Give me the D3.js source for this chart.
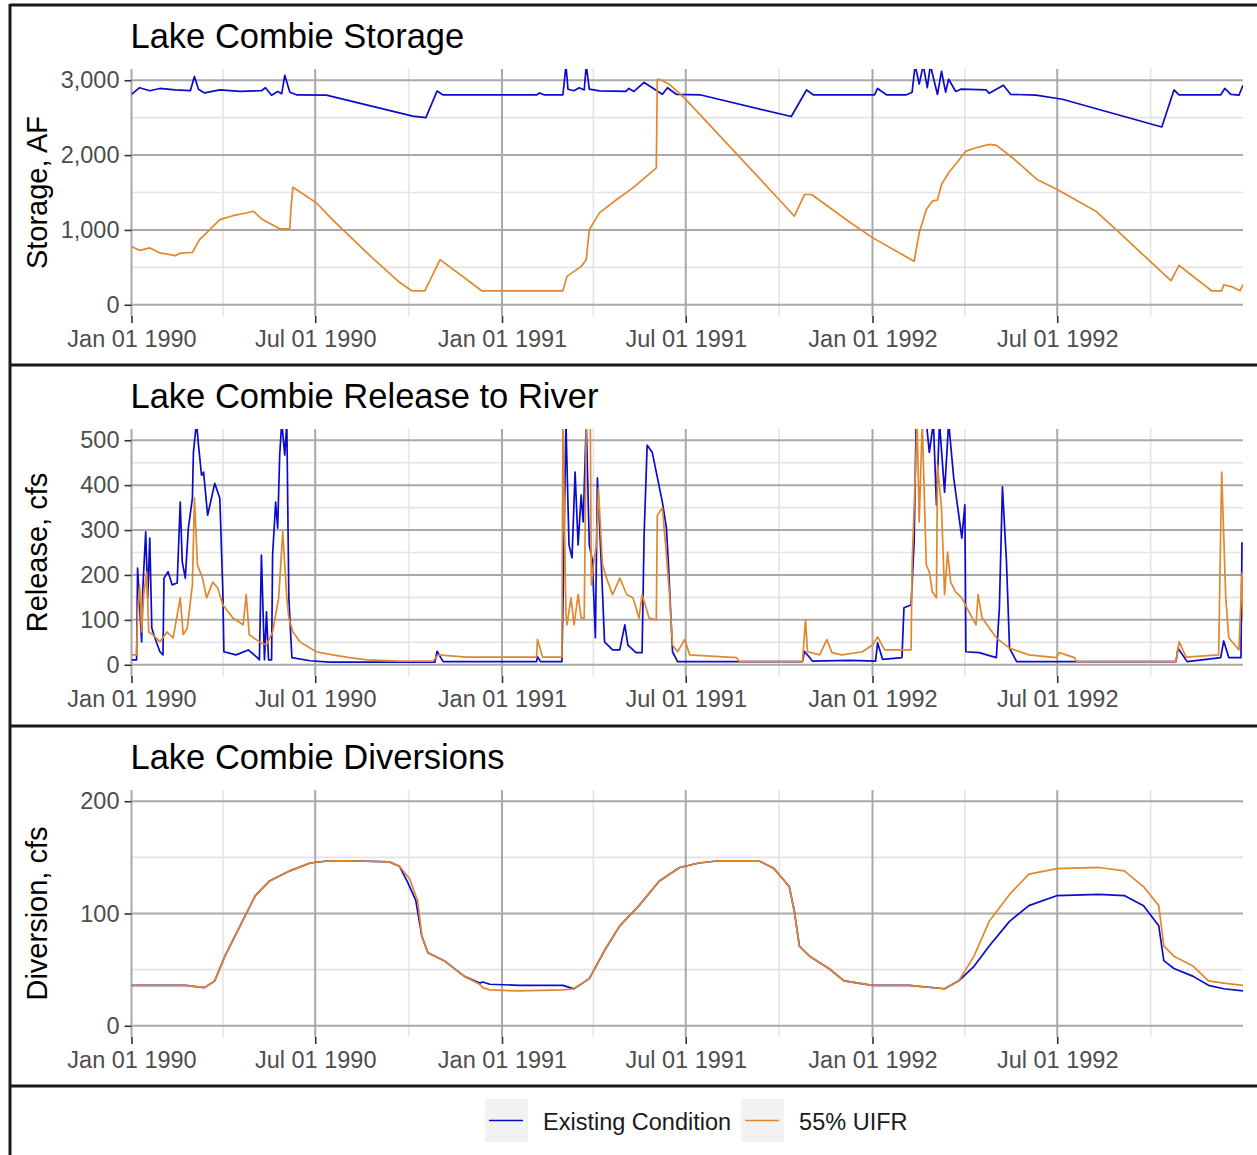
<!DOCTYPE html>
<meta charset="utf-8">
<style>
  body { margin: 0; background: white; }
  svg { display: block; background-color: white; }
  text { font-family: "Liberation Sans", Arial, sans-serif; }
  .axis path.domain { display: none; }
  .axis line { stroke: #333333; stroke-width: 1.6; }
  .axis text { font-size: 23.5px; fill: #4d4d4d; }
  .grid-major { stroke: #a9a9a9; stroke-width: 2; }
  .grid-minor { stroke: #e4e4e4; stroke-width: 1.6; }
  .frame { stroke: #1a1a1a; stroke-width: 3; }
  .series { fill: none; stroke-width: 1.7; stroke-linejoin: round; }
</style>

<div id="chart"></div>

<script src="https://d3js.org/d3.v7.min.js"></script>

<script>
  // ---- data (x value = day of record counted from 1 Jan 1990) ----
  var startDate = "1990-01-01", endDate = "1992-12-31";
  var seriesNames = ["Existing Condition", "55% UIFR"];
  var seriesColors = ["#0b0bcb", "#e3872d"];

  var panelTitles = ["Lake Combie Storage", "Lake Combie Release to River", "Lake Combie Diversions"];
  var axisTitles = ["Storage, AF", "Release, cfs", "Diversion, cfs"];
  var yDomains = [[-150, 3150], [-25, 525], [-10, 210]];
  var yTicks = [[0, 1000, 2000, 3000], [0, 100, 200, 300, 400, 500], [0, 100, 200]];
  var yMinorTicks = [[500, 1500, 2500], [50, 150, 250, 350, 450], [50, 150]];
  var xTicks = ["1990-01-01", "1990-07-01", "1991-01-01", "1991-07-01", "1992-01-01", "1992-07-01"];
  var xMinorTicks = ["1990-04-01", "1990-10-01", "1991-04-01", "1991-10-01", "1992-04-01", "1992-10-01"];

  // storage, AF
  var storageExisting = [[0,2810],[8,2900],[18,2860],[28,2890],[43,2870],[58,2860],[62,3050],[66,2880],[72,2830],
    [87,2870],[107,2850],[128,2860],[132,2900],[138,2800],[144,2850],[148,2820],[151,3066],[156,2840],[163,2803],
    [192,2800],[277,2520],[290,2500],[301,2855],[307,2803],[399,2803],[402,2830],[407,2803],[425,2803],[428,3200],
    [430,2880],[436,2860],[441,2900],[446,2870],[448,3200],[451,2880],[461,2857],[487,2850],[490,2890],[495,2850],
    [505,2970],[523,2812],[528,2900],[537,2810],[561,2803],[650,2515],[665,2870],[672,2803],[732,2803],[735,2890],
    [744,2803],[763,2803],[769,2840],[772,3200],[776,2950],[780,3200],[784,2900],[787,3200],[794,2810],[798,3120],
    [802,2840],[805,3013],[812,2850],[817,2880],[842,2870],[845,2825],[859,2933],[866,2812],[891,2800],[917,2746],
    [1015,2375],[1027,2870],[1032,2803],[1073,2803],[1077,2890],[1083,2810],[1091,2800],[1095,2933]];
  var storageUIFR = [[0,780],[8,727],[18,760],[28,693],[43,656],[48,690],[60,700],[67,870],[74,960],[87,1138],
    [100,1190],[114,1230],[120,1250],[129,1138],[146,1015],[156,1015],[157,1272],[159,1571],[182,1363],[198,1138],
    [232,692],[264,300],[276,187],[289,187],[304,603],[345,187],[425,187],[429,379],[443,513],[448,603],[451,1004],
    [461,1228],[478,1406],[494,1562],[517,1830],[518,3013],[520,3013],[530,2946],[546,2745],[592,2076],[638,1406],
    [653,1183],[663,1473],[670,1473],[707,1110],[730,897],[771,580],[776,960],[783,1272],[789,1384],[794,1400],
    [798,1607],[805,1763],[813,1897],[822,2053],[832,2098],[845,2143],[852,2130],[868,1964],[892,1674],[912,1540],
    [950,1250],[970,1004],[1024,321],[1032,527],[1064,187],[1074,187],[1076,268],[1084,240],[1092,187],[1095,268]];

  // release to river, cfs
  var releaseExisting = [[0,11],[5,11],[6,215],[10,51],[11,162],[14,296],[16,149],[18,282],[20,82],[23,60],[28,29],
    [31,22],[32,193],[36,207],[40,178],[45,182],[48,362],[50,229],[53,193],[56,304],[60,371],[61,473],[64,540],
    [66,489],[69,422],[71,429],[75,333],[82,404],[87,371],[90,162],[91,29],[103,22],[115,33],[124,16],[126,11],
    [128,244],[131,11],[133,118],[135,11],[138,11],[139,244],[142,362],[144,304],[146,467],[148,540],[151,467],
    [153,540],[155,149],[158,16],[176,9],[195,6],[299,6],[301,30],[307,7],[399,7],[400,18],[403,7],[424,7],
    [425,127],[428,540],[431,267],[434,238],[437,429],[440,267],[443,378],[445,318],[448,540],[451,267],[454,233],
    [457,60],[459,416],[463,216],[466,51],[474,33],[481,33],[486,89],[489,44],[497,27],[503,27],[505,289],[508,489],
    [513,473],[517,429],[523,362],[527,304],[529,222],[533,29],[538,7],[661,7],[663,30],[671,8],[707,10],[733,8],
    [735,49],[740,12],[759,16],[761,127],[768,133],[771,273],[773,540],[783,540],[786,473],[790,540],[793,356],
    [796,540],[801,384],[805,540],[810,416],[815,333],[818,282],[821,356],[822,29],[835,27],[852,16],[855,127],
    [858,396],[862,229],[865,37],[872,7],[1029,7],[1031,37],[1040,7],[1073,16],[1076,53],[1081,16],[1093,16],[1094,273]];
  var releaseUIFR = [[0,22],[5,22],[6,118],[8,178],[10,73],[12,156],[15,207],[17,73],[21,67],[28,51],[35,73],[41,60],
    [48,149],[51,67],[55,82],[60,178],[62,371],[65,222],[70,193],[74,149],[80,184],[85,171],[90,133],[100,104],
    [110,89],[113,156],[116,67],[126,51],[133,44],[139,73],[145,149],[149,296],[153,149],[155,104],[159,73],[166,51],
    [182,29],[198,22],[215,16],[232,11],[264,8],[297,8],[302,22],[330,17],[399,17],[400,56],[405,17],[424,17],
    [425,540],[428,111],[429,89],[433,149],[436,89],[440,156],[443,104],[446,104],[448,540],[452,540],[453,178],
    [455,222],[458,267],[460,393],[464,222],[468,193],[474,156],[481,193],[488,156],[494,149],[500,104],[503,156],
    [510,104],[517,100],[518,333],[523,349],[527,244],[530,156],[533,44],[538,29],[545,56],[550,22],[596,16],[599,7],
    [661,7],[664,100],[666,29],[678,22],[685,56],[690,27],[700,22],[720,29],[730,44],[735,62],[742,33],[768,33],
    [769,222],[774,540],[776,318],[779,540],[783,222],[786,207],[789,162],[793,149],[794,444],[798,349],[801,156],
    [804,251],[807,184],[812,162],[818,149],[825,118],[832,89],[834,156],[838,104],[852,60],[865,37],[884,22],
    [911,16],[914,27],[929,16],[931,7],[1029,7],[1032,51],[1039,17],[1071,22],[1074,429],[1078,149],[1081,60],
    [1091,33],[1094,204],[1095,104]];

  // diversions, cfs
  var diversionExisting = [[0,36],[53,36],[72,34],[82,40],[92,62],[107,89],[122,116],[136,129],[156,138],[176,145],
    [195,147],[215,147],[254,146],[264,142],[272,128],[280,112],[286,80],[292,65],[308,58],[328,44],[343,38],[346,39],
    [353,37],[382,36],[425,36],[432,34],[436,33],[451,42],[466,67],[481,89],[500,107],[520,129],[540,141],[559,145],
    [579,147],[618,147],[633,140],[648,124],[653,102],[658,71],[668,62],[687,51],[702,40],[730,36],[766,36],[801,33],
    [815,40],[830,53],[845,71],[865,93],[884,107],[912,116],[953,117],[978,116],[997,107],[1012,89],[1017,58],
    [1027,51],[1046,44],[1061,36],[1076,33],[1095,31]];
  var diversionUIFR = [[0,36],[53,36],[72,34],[82,40],[92,62],[107,89],[122,116],[136,129],[156,138],[176,145],
    [195,147],[215,147],[254,146],[264,142],[274,131],[282,111],[286,80],[292,65],[308,58],[328,44],[343,37],[346,34],
    [353,32],[382,31],[425,32],[436,33],[451,42],[466,67],[481,89],[500,107],[520,129],[540,141],[559,145],[579,147],
    [618,147],[633,140],[648,124],[653,102],[658,71],[668,62],[687,51],[702,40],[730,36],[766,36],[801,33],[815,40],
    [830,62],[845,93],[865,117],[884,135],[912,140],[953,141],[978,138],[997,124],[1012,107],[1017,71],[1027,62],
    [1046,53],[1061,40],[1076,38],[1095,36]];

  var panelSeries = [[storageExisting, storageUIFR], [releaseExisting, releaseUIFR], [diversionExisting, diversionUIFR]];

  // ---- layout ----
  var W = 1257, H = 1155;
  var panelTop = [5, 365, 726], panelBottom = 1086;
  var plotLeft = 131.5, plotRight = 1243, plotOffset = 64, plotHeight = 247;

  var parseDate = d3.timeParse("%Y-%m-%d");
  var t0 = parseDate(startDate);
  function dayToDate(d) { return d3.timeDay.offset(t0, d); }

  var x = d3.scaleTime().domain([t0, parseDate(endDate)]).range([plotLeft, plotRight]);

  var svg = d3.select("#chart").append("svg")
      .attr("width", W)
      .attr("height", H);

  panelTitles.forEach(function(title, p) {
    var top = panelTop[p] + plotOffset, bottom = top + plotHeight;
    var y = d3.scaleLinear().domain(yDomains[p]).range([bottom, top]);
    var g = svg.append("g");

    // grid
    g.selectAll(".ymin").data(yMinorTicks[p]).enter().append("line")
      .attr("class", "grid-minor")
      .attr("x1", plotLeft).attr("x2", plotRight)
      .attr("y1", function(d) { return y(d); }).attr("y2", function(d) { return y(d); });
    g.selectAll(".xmin").data(xMinorTicks).enter().append("line")
      .attr("class", "grid-minor")
      .attr("y1", top).attr("y2", bottom)
      .attr("x1", function(d) { return x(parseDate(d)); }).attr("x2", function(d) { return x(parseDate(d)); });
    g.selectAll(".ymaj").data(yTicks[p]).enter().append("line")
      .attr("class", "grid-major")
      .attr("x1", plotLeft).attr("x2", plotRight)
      .attr("y1", function(d) { return y(d); }).attr("y2", function(d) { return y(d); });
    g.selectAll(".xmaj").data(xTicks).enter().append("line")
      .attr("class", "grid-major")
      .attr("y1", top).attr("y2", bottom)
      .attr("x1", function(d) { return x(parseDate(d)); }).attr("x2", function(d) { return x(parseDate(d)); });

    // clip for values beyond the y limits
    svg.append("clipPath").attr("id", "clip" + p)
      .append("rect").attr("x", plotLeft).attr("y", top)
      .attr("width", plotRight - plotLeft).attr("height", plotHeight);

    var line = d3.line()
      .x(function(d) { return x(dayToDate(d[0])); })
      .y(function(d) { return y(d[1]); });

    g.append("g").attr("clip-path", "url(#clip" + p + ")")
      .selectAll("path").data(panelSeries[p]).enter().append("path")
      .attr("class", "series")
      .attr("stroke", function(d, i) { return seriesColors[i]; })
      .attr("d", line);

    // axes
    g.append("g").attr("class", "axis")
      .attr("transform", "translate(0," + bottom + ")")
      .call(d3.axisBottom(x).tickValues(xTicks.map(parseDate))
        .tickFormat(d3.timeFormat("%b %d %Y")).tickSize(7).tickPadding(7));
    g.append("g").attr("class", "axis")
      .attr("transform", "translate(" + plotLeft + ",0)")
      .call(d3.axisLeft(y).tickValues(yTicks[p]).tickFormat(d3.format(","))
        .tickSize(7).tickPadding(5));

    // titles
    g.append("text")
      .attr("x", plotLeft - 1).attr("y", panelTop[p] + 43)
      .style("font-size", "34.5px").style("fill", "#000")
      .text(title);
    g.append("text")
      .attr("transform", "translate(47," + (top + bottom) / 2 + ") rotate(-90)")
      .attr("text-anchor", "middle")
      .style("font-size", "29px").style("fill", "#000")
      .text(axisTitles[p]);
  });

  // frame lines between the stacked panels
  svg.append("line").attr("class", "frame").attr("x1", 10).attr("x2", W).attr("y1", 5).attr("y2", 5);
  svg.append("line").attr("class", "frame").attr("x1", 10).attr("x2", 10).attr("y1", 4).attr("y2", H);
  [panelTop[1], panelTop[2], panelBottom].forEach(function(yy) {
    svg.append("line").attr("class", "frame").attr("x1", 10).attr("x2", W).attr("y1", yy).attr("y2", yy);
  });

  // legend
  var legend = svg.append("g");
  var lx = 485, keySize = 43, ly = 1099;
  seriesNames.forEach(function(name, i) {
    legend.append("rect").attr("x", lx).attr("y", ly)
      .attr("width", keySize).attr("height", keySize).attr("fill", "#f2f2f2");
    legend.append("line").attr("x1", lx + 4).attr("x2", lx + keySize - 5)
      .attr("y1", ly + keySize / 2).attr("y2", ly + keySize / 2)
      .attr("stroke", seriesColors[i]).attr("stroke-width", 1.6);
    var t = legend.append("text").attr("x", lx + keySize + 15).attr("y", ly + keySize / 2 + 9)
      .style("font-size", "23.5px").style("fill", "#1a1a1a")
      .text(name);
    lx = lx + keySize + 15 + t.node().getComputedTextLength() + 10;
  });
</script>
